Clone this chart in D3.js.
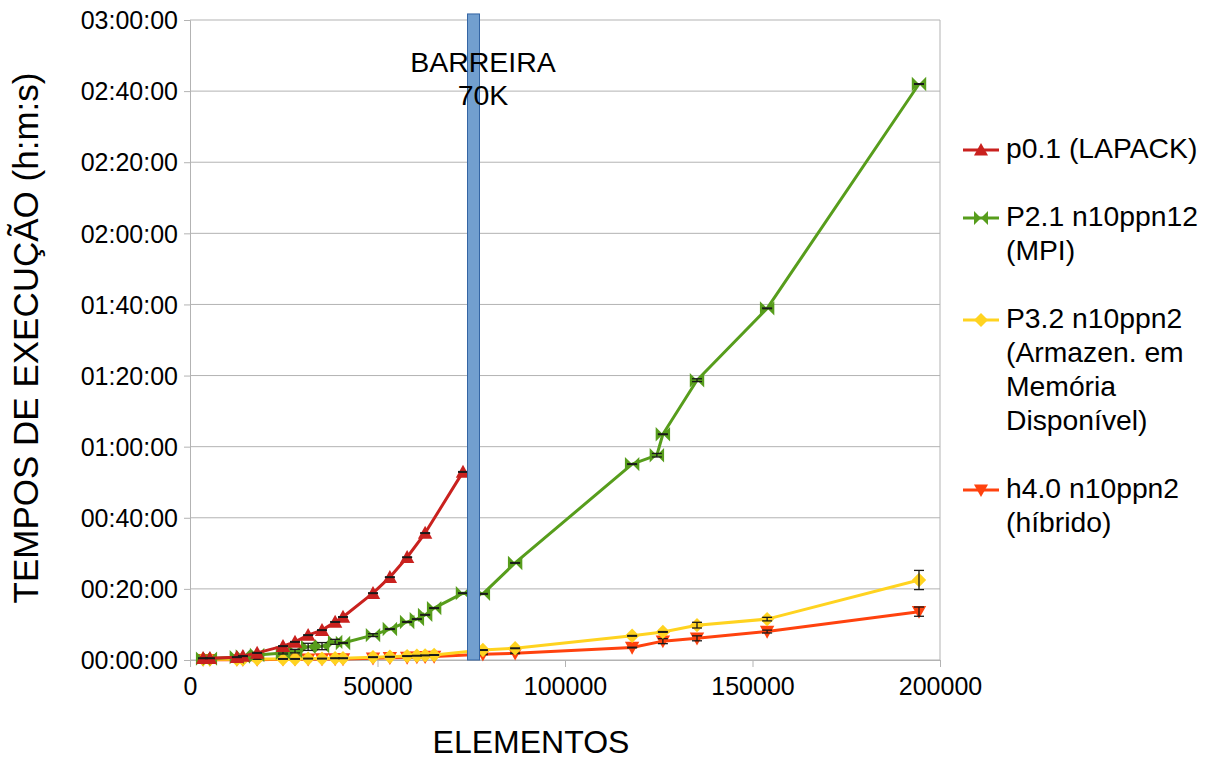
<!DOCTYPE html>
<html>
<head>
<meta charset="utf-8">
<script src="https://cdn.jsdelivr.net/npm/d3@7"></script>
<style>
  html, body { margin: 0; padding: 0; background: #ffffff; }
  svg { display: block; font-family: "Liberation Sans", Arial, sans-serif; }
</style>
</head>
<body>
<svg id="chart" width="1216" height="760"></svg>
<script>
// Execution time (minutes) against number of elements, four implementations
const xTicks = [0, 50000, 100000, 150000, 200000];
const yTicks = [0, 20, 40, 60, 80, 100, 120, 140, 160, 180];

const seriesNames = [
  ["p0.1 (LAPACK)"],
  ["P2.1 n10ppn12", "(MPI)"],
  ["P3.2 n10ppn2", "(Armazen. em", "Memória", "Disponível)"],
  ["h4.0 n10ppn2", "(híbrido)"]
];
const seriesColors = ["#c9211e", "#579d1c", "#ffd320", "#ff420e"];
const seriesSymbols = ["triangleUp", "bowtie", "diamond", "triangleDown"];

const lapackX = [3500, 5300, 12500, 14100, 17900, 24800, 28000, 31500, 35200, 38700, 40800, 48800, 53300, 57900, 62700, 72800];
const lapackY = [0.5, 0.5, 0.8, 1.1, 2.0, 3.9, 5.1, 7.0, 8.4, 10.7, 12.1, 18.8, 23.3, 28.9, 35.7, 52.9];
const lapackErr = [0.1, 0.1, 0.1, 0.1, 0.1, 0.1, 0.1, 0.1, 0.1, 0.1, 0.1, 0.1, 0.1, 0.1, 0.1, 0.1];

const mpiX = [3500, 5300, 12500, 14100, 17900, 24800, 28000, 31500, 35200, 38700, 40800, 48800, 53300, 57900, 60500, 62700, 65100, 72800, 78100, 86700, 117900, 124500, 126100, 135200, 153900, 194400];
const mpiY = [0.4, 0.4, 0.8, 1.0, 1.4, 2.0, 2.5, 3.7, 3.9, 5.1, 4.8, 7.0, 8.7, 10.7, 11.5, 12.7, 14.6, 18.8, 18.6, 27.3, 55.1, 57.6, 63.5, 78.7, 98.9, 162.0];
const mpiErr = [0.1, 0.1, 0.1, 0.1, 0.1, 0.3, 0.5, 1.0, 1.0, 0.7, 0.1, 0.4, 0.1, 0.1, 0.1, 0.1, 0.1, 0.1, 0.1, 0.1, 0.1, 0.5, 0.1, 0.4, 0.1, 0.1];

const memX = [3500, 5300, 12500, 14100, 17900, 24800, 28000, 31500, 35200, 38700, 40800, 48800, 53300, 57900, 60500, 62700, 65100, 78100, 86700, 117900, 126100, 135200, 153900, 194400];
const memY = [0.2, 0.2, 0.2, 0.2, 0.3, 0.3, 0.3, 0.4, 0.4, 0.5, 0.5, 0.8, 0.9, 1.1, 1.2, 1.3, 1.4, 2.8, 3.3, 6.8, 7.9, 9.8, 11.5, 22.5];
const memErr = [0.1, 0.1, 0.1, 0.1, 0.1, 0.1, 0.1, 0.1, 0.1, 0.1, 0.1, 0.1, 0.1, 0.1, 0.1, 0.1, 0.1, 0.1, 0.1, 0.1, 0.1, 0.8, 0.5, 2.7];

const hybX = memX;
const hybY = [0.1, 0.1, 0.1, 0.1, 0.1, 0.2, 0.2, 0.2, 0.3, 0.3, 0.3, 0.5, 0.6, 0.7, 0.8, 0.9, 1.0, 1.6, 1.9, 3.5, 5.3, 6.1, 8.0, 13.6];
const hybErr = [0.1, 0.1, 0.1, 0.1, 0.1, 0.1, 0.1, 0.1, 0.1, 0.1, 0.1, 0.1, 0.1, 0.1, 0.1, 0.1, 0.1, 0.1, 0.1, 0.1, 0.7, 0.7, 0.4, 1.3];

// The 70K barrier column
const barrierX = 75600;
const barrierWidth = 3200;
const barrierValue = 181.7;
const barrierLabel = ["BARREIRA", "70K"];

const series = [
  { x: lapackX, y: lapackY, err: lapackErr },
  { x: mpiX, y: mpiY, err: mpiErr },
  { x: memX, y: memY, err: memErr },
  { x: hybX, y: hybY, err: hybErr }
].map((s, i) => ({
  name: seriesNames[i], color: seriesColors[i], symbol: seriesSymbols[i],
  points: s.x.map((v, j) => ({ x: v, y: s.y[j], e: s.err[j] }))
}));

const svg = d3.select("#chart");
const plot = { left: 190, right: 940, top: 20, bottom: 660 };

const x = d3.scaleLinear().domain([0, 200000]).range([plot.left, plot.right]);
const y = d3.scaleLinear().domain([0, 180]).range([plot.bottom, plot.top]);

const pad = n => String(n).padStart(2, "0");
const fmtTime = m => pad(Math.floor(m / 60)) + ":" + pad(Math.floor(m % 60)) + ":" + pad(Math.round((m * 60) % 60));

const gridColor = "#b3b3b3";

// horizontal grid
svg.append("g").selectAll("line").data(yTicks).join("line")
  .attr("x1", plot.left).attr("x2", plot.right)
  .attr("y1", d => y(d)).attr("y2", d => y(d))
  .attr("stroke", gridColor).attr("stroke-width", 1);

// right frame edge
svg.append("line")
  .attr("x1", plot.right).attr("x2", plot.right)
  .attr("y1", plot.top).attr("y2", plot.bottom)
  .attr("stroke", gridColor);

// axes
const yAxis = d3.axisLeft(y).tickValues(yTicks).tickFormat(fmtTime).tickSize(6).tickPadding(6);
const gy = svg.append("g").attr("transform", `translate(${plot.left},0)`).call(yAxis);
const xAxis = d3.axisBottom(x).tickValues(xTicks).tickFormat(d3.format("d")).tickSize(7).tickPadding(10);
const gx = svg.append("g").attr("transform", `translate(0,${plot.bottom})`).call(xAxis);
[gx, gy].forEach(g => {
  g.select(".domain").attr("stroke", gridColor);
  g.selectAll(".tick line").attr("stroke", gridColor);
  g.selectAll(".tick text").attr("fill", "#000").style("font-size", "25px")
    .style("font-family", "'Liberation Sans', Arial, sans-serif");
});
gx.selectAll(".tick text").attr("dy", "0.71em");
gy.selectAll(".tick text").attr("dy", "0.35em");

// axis titles
svg.append("text").attr("x", 531).attr("y", 753).attr("text-anchor", "middle")
  .style("font-size", "32px").text("ELEMENTOS");
svg.append("text").attr("transform", "translate(38,338) rotate(-90)").attr("text-anchor", "middle")
  .style("font-size", "35px").text("TEMPOS DE EXECUÇÃO (h:m:s)");

// marker shapes
function markerPath(kind, s) {
  const h = s, w = s;
  switch (kind) {
    case "triangleUp": return `M0,${-h}L${w},${h * 0.8}L${-w},${h * 0.8}Z`;
    case "triangleDown": return `M0,${h}L${w},${-h * 0.8}L${-w},${-h * 0.8}Z`;
    case "diamond": return `M0,${-h}L${w},0L0,${h}L${-w},0Z`;
    case "bowtie": return `M${-w},${-h}L0,0L${-w},${h}Z M${w},${-h}L0,0L${w},${h}Z`;
  }
}

const line = d3.line().x(d => x(d.x)).y(d => y(d.y));

// draw series, last one at the bottom
const drawOrder = series.slice().reverse();
drawOrder.forEach(s => {
  const g = svg.append("g");
  g.append("path").datum(s.points).attr("d", line)
    .attr("fill", "none").attr("stroke", s.color).attr("stroke-width", 3)
    .attr("stroke-linejoin", "round");
  g.selectAll("path.m").data(s.points).join("path").attr("class", "m")
    .attr("transform", d => `translate(${x(d.x)},${y(d.y)})`)
    .attr("d", markerPath(s.symbol, 7.2)).attr("fill", s.color);
  // error bars
  const eb = g.selectAll("g.eb").data(s.points).join("g").attr("class", "eb")
    .attr("stroke", "#1a1a1a").attr("stroke-width", 1.3);
  eb.append("line").attr("x1", d => x(d.x)).attr("x2", d => x(d.x))
    .attr("y1", d => y(d.y - d.e)).attr("y2", d => y(d.y + d.e));
  eb.append("line").attr("x1", d => x(d.x) - 5).attr("x2", d => x(d.x) + 5)
    .attr("y1", d => y(d.y - d.e)).attr("y2", d => y(d.y - d.e));
  eb.append("line").attr("x1", d => x(d.x) - 5).attr("x2", d => x(d.x) + 5)
    .attr("y1", d => y(d.y + d.e)).attr("y2", d => y(d.y + d.e));
});

// barrier column
svg.append("rect")
  .attr("x", x(barrierX - barrierWidth / 2))
  .attr("width", x(barrierX + barrierWidth / 2) - x(barrierX - barrierWidth / 2))
  .attr("y", y(barrierValue)).attr("height", y(0) - y(barrierValue))
  .attr("fill", "#729fcf").attr("stroke", "#3465a4").attr("stroke-width", 1);
svg.append("text").attr("text-anchor", "middle").style("font-size", "28.5px")
  .selectAll("tspan").data(barrierLabel).join("tspan")
  .attr("x", 483).attr("y", (d, i) => 72 + i * 33).text(d => d);

// legend
const legend = svg.append("g");
const lineH = 34, gap = 34;
let baseY = 158;
series.forEach(s => {
  const g = legend.append("g");
  const my = baseY - 8;
  g.append("line").attr("x1", 963).attr("x2", 999).attr("y1", my).attr("y2", my)
    .attr("stroke", s.color).attr("stroke-width", 3);
  g.append("path").attr("transform", `translate(981,${my})`)
    .attr("d", markerPath(s.symbol, 7)).attr("fill", s.color);
  g.append("text").style("font-size", "28.3px")
    .selectAll("tspan").data(s.name).join("tspan")
    .attr("x", 1006).attr("y", (d, i) => baseY + i * lineH).text(d => d);
  baseY += s.name.length * lineH + gap;
});
</script>
</body>
</html>
